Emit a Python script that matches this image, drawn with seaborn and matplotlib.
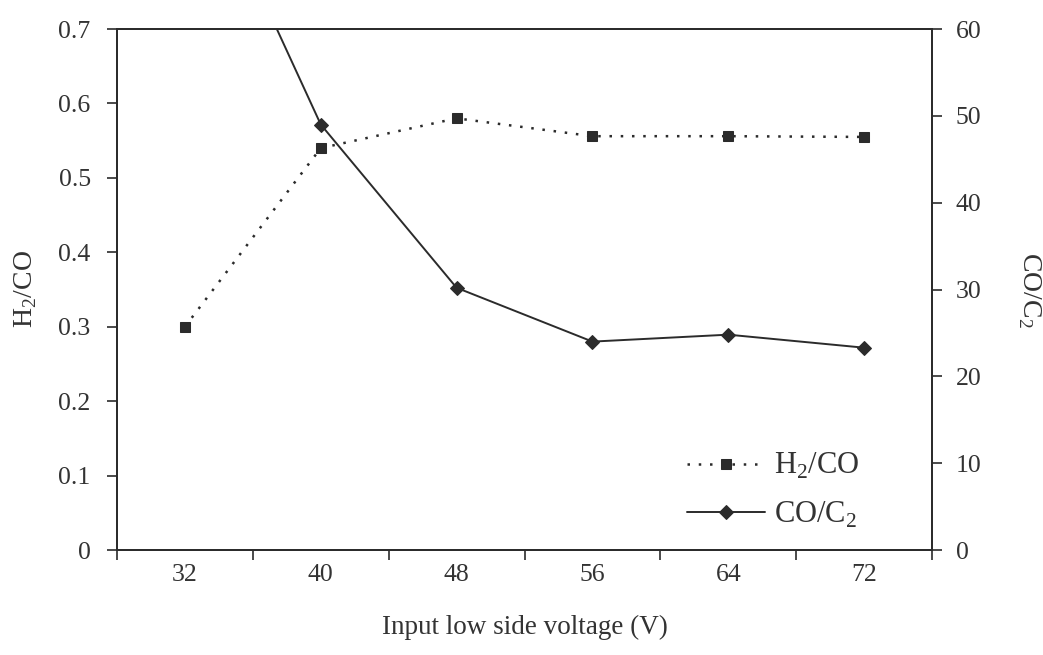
import numpy as np
import matplotlib
matplotlib.use("Agg")
import matplotlib.pyplot as plt
from matplotlib.ticker import FixedLocator, NullFormatter, FixedFormatter
import seaborn as sns

# Data
voltages = ["32", "40", "48", "56", "64", "72"]
h2_co = [0.30, 0.54, 0.58, 0.556, 0.556, 0.555]
co_c2 = [83.0, 49.0, 30.2, 24.0, 24.8, 23.3]

sns.set_theme(style="white")
plt.rcParams["font.family"] = ["Liberation Serif", "DejaVu Serif"]
plt.rcParams["mathtext.fontset"] = "custom"
plt.rcParams["mathtext.rm"] = "Liberation Serif"

ink = "#2b2b2b"
text_col = "#333333"
tick_fs = 18.5

fig = plt.figure(figsize=(10.43, 6.55), dpi=100)
ax = fig.add_axes([0.1122, 0.1603, 0.7814, 0.7954])
ax2 = ax.twinx()

pos = np.arange(len(voltages))

sns.lineplot(x=pos, y=h2_co, ax=ax, color=ink, marker="s", markersize=7.5,
             markeredgecolor=ink, linewidth=1.8, dashes=False, legend=False)
ax.lines[-1].set_linestyle((0, (1, 3.5)))
sns.lineplot(x=pos, y=co_c2, ax=ax2, color=ink, marker="D", markersize=7.5,
             markeredgecolor=ink, linewidth=1.4, legend=False)

# Category axis: ticks on boundaries, labels at centres
ax.set_xlim(-0.5, len(voltages) - 0.5)
ax.xaxis.set_major_locator(FixedLocator(np.arange(-0.5, len(voltages), 1.0)))
ax.xaxis.set_major_formatter(NullFormatter())
ax.xaxis.set_minor_locator(FixedLocator(pos))
ax.xaxis.set_minor_formatter(FixedFormatter(voltages))
ax.tick_params(axis="x", which="major", direction="out", length=7, width=1.2,
               color=ink, bottom=True)
ax.tick_params(axis="x", which="minor", length=0, pad=10, labelsize=tick_fs,
               labelcolor=text_col, bottom=True)

ax.set_ylim(0, 0.7)
ax.set_yticks(np.round(np.arange(0, 0.71, 0.1), 1))
ax.set_yticklabels(["0"] + [f"{v:.1f}" for v in np.arange(0.1, 0.71, 0.1)])
ax.tick_params(axis="y", direction="out", length=7, width=1.2, color=ink,
               labelsize=tick_fs, labelcolor=text_col, left=True, pad=12)

ax2.set_ylim(0, 60)
ax2.set_yticks(np.arange(0, 61, 10))
ax2.tick_params(axis="y", direction="out", length=7, width=1.2, color=ink,
                labelsize=tick_fs, labelcolor=text_col, right=True, pad=10)

for a in (ax, ax2):
    for s in a.spines.values():
        s.set_color(ink)
        s.set_linewidth(1.3)
    a.grid(False)

ax.set_xlabel("Input low side voltage (V)", fontsize=19.5, color=text_col, labelpad=21)
ax.set_ylabel("H$_2$/CO", fontsize=20, color=text_col, labelpad=14)
ax2.set_ylabel("CO/C$_2$", fontsize=20, color=text_col, rotation=270, labelpad=44)

handles = [ax.lines[0], ax2.lines[0]]
leg = ax2.legend(handles, ["H$_2$/CO", "CO/C$_2$"], loc="lower right",
                 bbox_to_anchor=(0.945, -0.014), frameon=False, fontsize=22,
                 handlelength=2.55, handletextpad=0.3, labelspacing=0.6)
for t in leg.get_texts():
    t.set_color(text_col)

fig.savefig("out.png", dpi=100, facecolor="white")
